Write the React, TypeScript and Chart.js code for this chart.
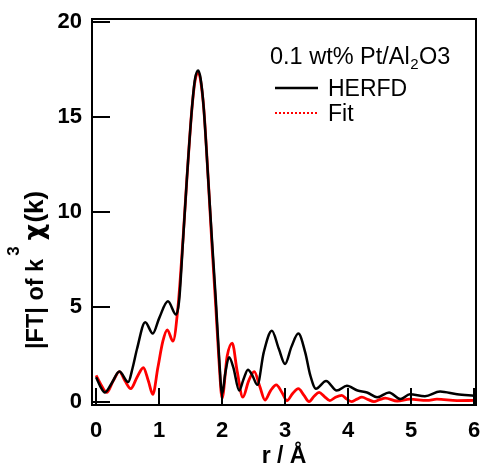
import React, { useEffect, useRef } from "react";
import { Chart, registerables } from "chart.js";

Chart.register(...registerables);

// HERFD |FT| (r in Å)
const rHerfd = [0.0, 0.07, 0.14, 0.25, 0.37, 0.51, 0.58, 0.65, 0.78, 0.9, 1.0, 1.14, 1.27, 1.32, 1.38, 1.44, 1.52, 1.57, 1.62, 1.66, 1.71, 1.78, 1.84, 1.9, 1.95, 2.0, 2.05, 2.11, 2.18, 2.27, 2.34, 2.41, 2.48, 2.56, 2.66, 2.79, 2.9, 3.0, 3.1, 3.21, 3.32, 3.4, 3.49, 3.65, 3.82, 3.98, 4.15, 4.3, 4.46, 4.65, 4.83, 4.98, 5.22, 5.46, 5.73, 6.0];
const herfd = [1.3, 0.8, 0.5, 1.0, 1.6, 1.05, 1.8, 2.8, 4.2, 3.6, 4.4, 5.3, 4.6, 5.4, 8.5, 11.7, 15.4, 17.0, 17.45, 17.0, 15.4, 11.7, 8.5, 5.4, 2.5, 0.4, 1.5, 2.35, 1.8, 0.6, 1.2, 1.7, 1.4, 0.9, 2.6, 3.75, 2.8, 2.0, 2.9, 3.6, 2.6, 1.4, 0.7, 1.1, 0.6, 0.85, 0.6, 0.5, 0.25, 0.5, 0.15, 0.4, 0.3, 0.55, 0.4, 0.33];

// Fit |FT|
const rFit = [0.0, 0.08, 0.17, 0.27, 0.37, 0.46, 0.55, 0.65, 0.75, 0.83, 0.9, 0.98, 1.06, 1.13, 1.22, 1.3, 1.38, 1.44, 1.52, 1.57, 1.62, 1.66, 1.71, 1.78, 1.84, 1.9, 1.95, 2.0, 2.08, 2.16, 2.24, 2.33, 2.42, 2.51, 2.6, 2.68, 2.77, 2.86, 2.95, 3.03, 3.12, 3.21, 3.3, 3.38, 3.46, 3.54, 3.62, 3.71, 3.8, 3.9, 3.98, 4.06, 4.14, 4.22, 4.32, 4.41, 4.5, 4.59, 4.78, 4.98, 5.25, 5.41, 5.73, 6.0];
const fit = [1.4, 0.9, 0.5, 1.1, 1.6, 1.1, 0.7, 1.3, 1.8, 1.1, 0.4, 1.8, 3.2, 3.8, 3.2, 5.0, 8.6, 11.7, 15.4, 16.9, 17.35, 16.9, 15.4, 11.7, 8.2, 5.0, 2.2, 0.2, 2.4, 3.1, 1.6, 0.25, 1.1, 1.6, 0.8, 0.1, 0.6, 0.9, 0.5, 0.07, 0.45, 0.7, 0.35, 0.02, 0.3, 0.5, 0.3, 0.07, 0.25, 0.35, 0.15, 0.02, 0.15, 0.25, 0.12, 0.02, 0.12, 0.2, 0.05, 0.15, 0.08, 0.15, 0.07, 0.08];

const xTickValues = [0, 1, 2, 3, 4, 5, 6];
const xTickLabels = ["0", "1", "2", "3", "4", "5", "6"];
const yTickValues = [0, 5, 10, 15, 20];
const yTickLabels = ["0", "5", "10", "15", "20"];

const seriesNames = ["HERFD", "Fit"];
const legendTitle = ["0.1 wt% Pt/Al", "2", "O3"];
const xTitle = "r / Å";
const yTitle = ["|FT| of k", "3", "χ", "(k)"];

const FONT = '"Liberation Sans", Arial, Helvetica, sans-serif';

const overlay = {
  id: "overlay",
  afterDraw(chart: any) {
    const { ctx, chartArea } = chart;
    const xs = chart.scales.x;
    const ys = chart.scales.y;
    const { left, right, top, bottom } = chartArea;
    ctx.save();
    ctx.strokeStyle = "#000";
    ctx.lineWidth = 2;
    ctx.lineCap = "butt";
    // frame
    ctx.beginPath();
    ctx.rect(left, top, right - left, bottom - top);
    ctx.stroke();
    // inward ticks
    ctx.beginPath();
    yTickValues.forEach((v) => {
      const py = Math.round(ys.getPixelForValue(v));
      ctx.moveTo(left, py);
      ctx.lineTo(left + 18, py);
    });
    xTickValues.forEach((v) => {
      const px = Math.round(xs.getPixelForValue(v));
      ctx.moveTo(px, bottom);
      ctx.lineTo(px, bottom - 17);
    });
    ctx.stroke();

    // legend
    ctx.fillStyle = "#000";
    ctx.textAlign = "left";
    ctx.textBaseline = "alphabetic";
    let lx = 270;
    ctx.font = `23.5px ${FONT}`;
    ctx.fillText(legendTitle[0], lx, 64);
    lx += ctx.measureText(legendTitle[0]).width;
    ctx.font = `15px ${FONT}`;
    ctx.fillText(legendTitle[1], lx + 0.5, 69);
    lx += ctx.measureText(legendTitle[1]).width + 1;
    ctx.font = `23.5px ${FONT}`;
    ctx.fillText(legendTitle[2], lx, 64);

    ctx.lineWidth = 2.5;
    ctx.strokeStyle = "#000";
    ctx.beginPath();
    ctx.moveTo(275, 88);
    ctx.lineTo(318, 88);
    ctx.stroke();
    ctx.font = `23px ${FONT}`;
    ctx.fillText(seriesNames[0], 328, 96);

    ctx.strokeStyle = "#ff0000";
    ctx.lineWidth = 2;
    ctx.setLineDash([2, 2]);
    ctx.beginPath();
    ctx.moveTo(275, 113);
    ctx.lineTo(318, 113);
    ctx.stroke();
    ctx.setLineDash([]);
    ctx.fillText(seriesNames[1], 328, 121);

    // x title
    ctx.font = `bold 23px ${FONT}`;
    ctx.textAlign = "center";
    ctx.fillText(xTitle, (left + right) / 2, 463);

    // y title (rotated)
    ctx.save();
    ctx.translate(43, 349);
    ctx.rotate(-Math.PI / 2);
    ctx.textAlign = "left";
    ctx.font = `bold 23.5px ${FONT}`;
    let tx = 0;
    ctx.fillText(yTitle[0], tx, 0);
    tx += ctx.measureText(yTitle[0]).width + 3;
    ctx.font = `bold 17px ${FONT}`;
    ctx.fillText(yTitle[1], tx, -24);
    tx += ctx.measureText(yTitle[1]).width + 6;
    ctx.font = `bold 26px "DejaVu Sans", ${FONT}`;
    ctx.fillText(yTitle[2], tx, 0);
    tx += ctx.measureText(yTitle[2]).width + 1;
    ctx.font = `bold 26px ${FONT}`;
    ctx.fillText(yTitle[3], tx, 0);
    ctx.restore();

    ctx.restore();
  },
};

export default function App() {
  const ref = useRef<HTMLCanvasElement | null>(null);
  useEffect(() => {
    if (!ref.current) return;
    const chart = new Chart(ref.current, {
      type: "line",
      data: {
        datasets: [
          {
            label: seriesNames[0],
            data: rHerfd.map((r, i) => ({ x: r, y: herfd[i] })),
            borderColor: "#000000",
            borderWidth: 2.5,
            pointRadius: 0,
            cubicInterpolationMode: "monotone",
            fill: false,
          },
          {
            label: seriesNames[1],
            data: rFit.map((r, i) => ({ x: r, y: fit[i] })),
            borderColor: "#ff0000",
            borderWidth: 2.8,
            pointRadius: 0,
            cubicInterpolationMode: "monotone",
            fill: false,
          },
        ],
      },
      options: {
        animation: false,
        responsive: false,
        events: [],
        layout: { padding: { top: 19, right: 5, left: 0, bottom: 0 } },
        plugins: { legend: { display: false }, tooltip: { enabled: false } },
        scales: {
          x: {
            type: "linear",
            min: -0.065,
            max: 6.03,
            grid: { display: false, drawTicks: false },
            border: { display: false },
            ticks: {
              padding: 13,
              maxRotation: 0,
              color: "#000",
              font: { family: FONT, size: 22, weight: "bold" },
              callback: (v: any) => {
                const i = xTickValues.indexOf(Number(v));
                return i >= 0 ? xTickLabels[i] : "";
              },
            },
            afterBuildTicks: (s: any) => {
              s.ticks = xTickValues.map((v) => ({ value: v }));
            },
            afterFit: (s: any) => {
              s.height = 59;
              s.paddingLeft = 0;
              s.paddingRight = 0;
            },
          },
          y: {
            type: "linear",
            min: -0.16,
            max: 20.16,
            grid: { display: false, drawTicks: false },
            border: { display: false },
            ticks: {
              padding: 10,
              color: "#000",
              font: { family: FONT, size: 22, weight: "bold" },
              callback: (v: any) => {
                const i = yTickValues.indexOf(Number(v));
                return i >= 0 ? yTickLabels[i] : "";
              },
            },
            afterBuildTicks: (s: any) => {
              s.ticks = yTickValues.map((v) => ({ value: v }));
            },
            afterFit: (s: any) => {
              s.width = 92;
              s.paddingTop = 0;
              s.paddingBottom = 0;
            },
          },
        },
      },
      plugins: [overlay],
    });
    return () => chart.destroy();
  }, []);
  return (
    <div style={{ position: "absolute", left: 0, top: 0, width: 481, height: 464, background: "#fff" }}>
      <canvas ref={ref} width={481} height={464} style={{ display: "block" }} />
    </div>
  );
}
